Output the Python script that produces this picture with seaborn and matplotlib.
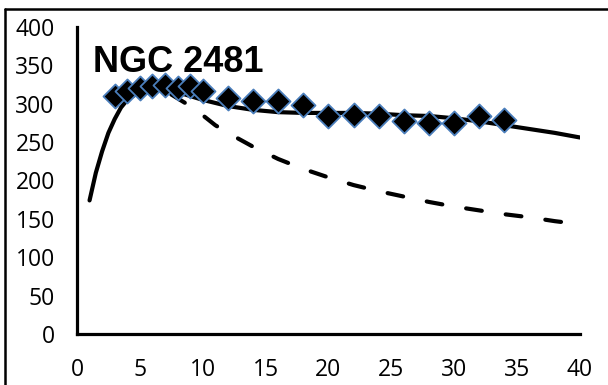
import matplotlib
matplotlib.use("Agg")
import matplotlib.pyplot as plt
import seaborn as sns
import pandas as pd
from matplotlib.lines import Line2D

# Observed rotation velocities (km/s) versus radius (arcsec)
obs_r = [3, 4, 5, 6, 7, 8, 9, 10, 12, 14, 16, 18, 20, 22, 24, 26, 28, 30, 32, 34]
obs_v = [310, 316, 321, 323, 325, 321, 323, 317, 307, 303, 304, 298,
         284, 285, 284, 277, 275, 275, 284, 279]

# Full model curve
model_r = [1, 1.5, 2, 2.5, 3, 3.5, 4, 5, 6, 7, 8, 9, 10, 12, 14, 16, 18,
           20, 22, 24, 26, 28, 30, 32, 34, 36, 38, 40]
model_v = [174, 210, 238, 262, 280, 295, 305, 316, 320, 319, 315, 310, 305,
           297, 292, 289, 288, 288, 288, 287, 285, 284, 281, 277, 272, 267,
           262, 256]

# Keplerian-like falloff curve
kep_r = [7.5, 9, 10, 11, 12, 14, 16, 18, 20, 22, 24, 26, 28, 30, 32, 34, 36, 38, 40]
kep_v = [312, 297, 285, 272, 262, 244, 228, 215, 204, 194, 186, 179, 172,
         166, 161, 156, 152, 147, 143]

x_ticks = [0, 5, 10, 15, 20, 25, 30, 35, 40]
y_ticks = [0, 50, 100, 150, 200, 250, 300, 350, 400]
title_text = "NGC 2481"

sns.set_style("white")
plt.rcParams["font.family"] = ["Open Sans", "DejaVu Sans"]
plt.rcParams["text.color"] = "black"

fig = plt.figure(figsize=(6.08, 3.85), dpi=100)
ax = fig.add_axes([0.1266, 0.1325, 0.8272, 0.7975])

df_model = pd.DataFrame({"r": model_r, "v": model_v})
df_kep = pd.DataFrame({"r": kep_r, "v": kep_v})
df_obs = pd.DataFrame({"r": obs_r, "v": obs_v})

sns.lineplot(data=df_model, x="r", y="v", ax=ax, color="black",
             linewidth=3.0, estimator=None, sort=False,
             solid_capstyle="round")
sns.lineplot(data=df_kep, x="r", y="v", ax=ax, color="black",
             linewidth=3.0, estimator=None, sort=False)
kep_line = ax.lines[-1]
kep_line.set_dashes((3.8, 5.8))
kep_line.set_dash_capstyle("round")

sns.scatterplot(data=df_obs, x="r", y="v", ax=ax, marker="D", s=150,
                color="black", edgecolor="#4a7ebb", linewidth=1.3, zorder=5)

ax.set_xlim(0, 40)
ax.set_ylim(0, 400)
ax.set_xticks(x_ticks)
ax.set_yticks(y_ticks)
ax.set_xlabel("")
ax.set_ylabel("")

for side in ("top", "right"):
    ax.spines[side].set_visible(False)
for side in ("left", "bottom"):
    ax.spines[side].set_linewidth(2.3)
    ax.spines[side].set_color("black")
    ax.spines[side].set_capstyle("projecting")

ax.tick_params(axis="both", which="major", direction="out", length=6,
               width=2.3, colors="black", labelsize=16.5)
ax.tick_params(axis="y", pad=10)
ax.tick_params(axis="x", pad=11)

# Galaxy name in the upper-left corner of the plot
ax.text(1.3, 341, title_text, fontsize=26, fontweight="bold", color="black",
        family=["Liberation Sans", "DejaVu Sans"], va="baseline", ha="left")

# Outer frame: only the top and left edges fall inside the canvas
x0, y1 = 5 / 608, 1 - 9 / 385
fig.lines.append(Line2D([x0, 1.0], [y1, y1], transform=fig.transFigure,
                        color="black", linewidth=1.8))
fig.lines.append(Line2D([x0, x0], [0.0, y1], transform=fig.transFigure,
                        color="black", linewidth=1.8))

fig.savefig("out.png", dpi=100)
